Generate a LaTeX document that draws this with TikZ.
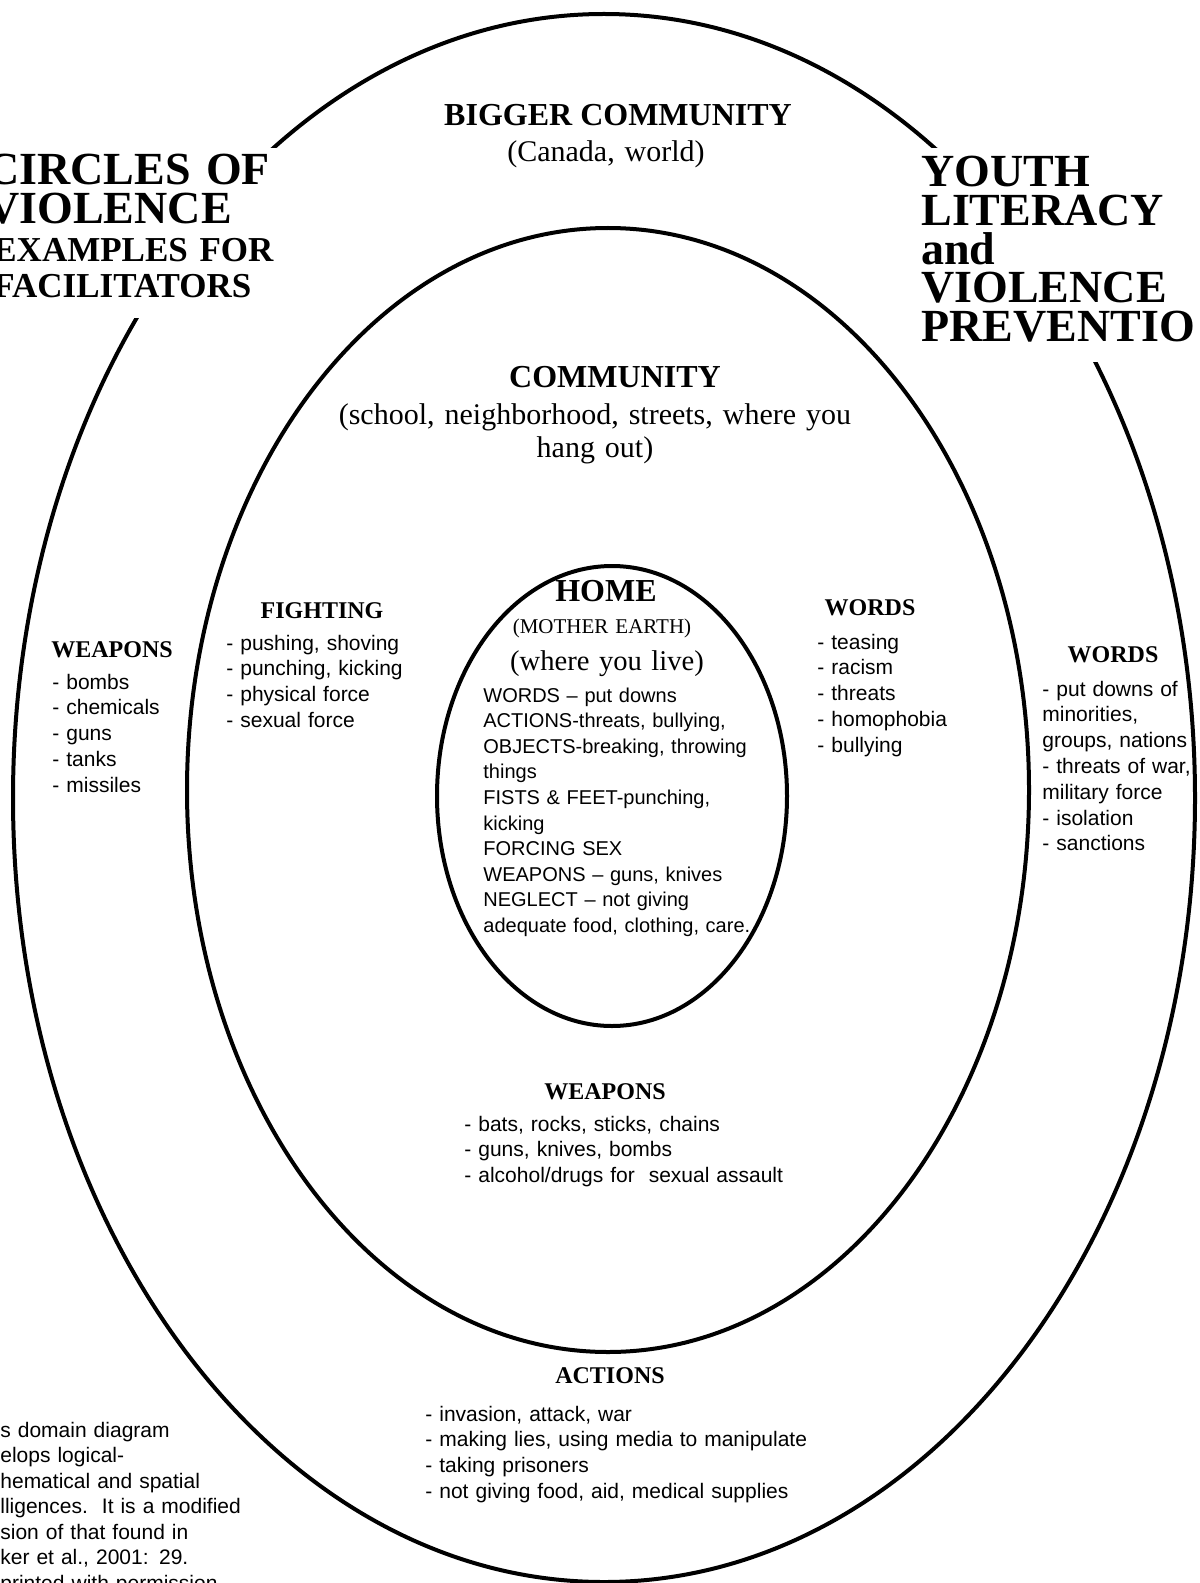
\documentclass[tikz,border=0pt]{standalone}
\usepackage{fontspec}
\setmainfont{Liberation Serif}
\newfontfamily\sansf{Liberation Sans}
\usetikzlibrary{shapes.geometric}
\begin{document}
\begin{tikzpicture}[x=0.5pt,y=-0.5pt,
  ring/.style={draw, ellipse, line width=2pt, inner sep=0pt, outer sep=0pt},
  hd/.style={font=\fontsize{12}{14}\selectfont\bfseries, inner sep=0pt, anchor=base},
  bighd/.style={font=\fontsize{16}{19}\selectfont\bfseries, inner sep=0pt, anchor=base},
  paren/.style={font=\fontsize{15}{16.5}\selectfont, inner sep=0pt, anchor=base, text width=300pt, align=center},
  lst/.style={font=\sansf\fontsize{10.5}{12.9}\selectfont, inner sep=0pt, anchor=base west, text width=250pt, align=left},
  inlst/.style={font=\sansf\fontsize{10}{12.8}\selectfont, inner sep=0pt, anchor=base west, text width=200pt, align=left},
  ttl/.style={font=\fontsize{23}{19.3}\selectfont\bfseries, inner sep=0pt, anchor=base west, text width=200pt, align=left},
  ttlsm/.style={font=\fontsize{17.5}{18}\selectfont\bfseries, inner sep=0pt, anchor=base west, text width=200pt, align=left}
]
\useasboundingbox (0,0) rectangle (1199,1583);
\fill[white] (0,0) rectangle (1199,1583);
\clip (0,0) rectangle (1199,1583);

% circles
\node[ring, minimum width=591pt, minimum height=784pt] (outer) at (604,798) {};
\node[ring, minimum width=421pt, minimum height=562pt] (middle) at (608,790) {};
\node[ring, minimum width=175pt, minimum height=230pt] (inner) at (612,796) {};

% white frames behind the titles
\fill[white] (-5,148) rectangle (279,318);
\fill[white] (915,148) rectangle (1205,362);

% titles
\node[ttl] (t1) at (-14,185) {CIRCLES OF\\VIOLENCE};
\node[ttlsm] (t2) at (-7,262) {EXAMPLES FOR\\FACILITATORS};
\node[ttl] (t3) at (921,187) {YOUTH\\LITERACY\\and\\VIOLENCE\\PREVENTIO};

% bigger community
\node[bighd] (bc) at (618,126) {BIGGER COMMUNITY};
\node[paren] (bcp) at (606,162) {(Canada, world)};

% community
\node[bighd] (cm) at (615,387) {COMMUNITY};
\node[paren] (cmp) at (595,424) {(school, neighborhood, streets, where you\\hang out)};

% home
\node[bighd] (home) at (606,601) {HOME};
\node[paren, font=\fontsize{10.5}{12}\selectfont] (mother) at (602,633) {(MOTHER EARTH)};
\node[paren, font=\fontsize{14.3}{16}\selectfont] (live) at (607,670) {(where you live)};
\node[inlst] (homelist) at (483,702) {WORDS – put downs\\ACTIONS-threats, bullying,\\OBJECTS-breaking, throwing\\things\\FISTS \& FEET-punching,\\kicking\\FORCING SEX\\WEAPONS – guns, knives\\NEGLECT – not giving\\adequate food, clothing, care.};

% fighting
\node[hd] (fight) at (322,618) {FIGHTING};
\node[lst] (fightlist) at (226,650) {- pushing, shoving\\- punching, kicking\\- physical force\\- sexual force};

% words (community)
\node[hd] (words1) at (870,615) {WORDS};
\node[lst] (words1list) at (817,649) {- teasing\\- racism\\- threats\\- homophobia\\- bullying};

% weapons (community)
\node[hd] (weap1) at (605,1099) {WEAPONS};
\node[lst] (weap1list) at (464,1131) {- bats, rocks, sticks, chains\\- guns, knives, bombs\\- alcohol/drugs for\ \ sexual assault};

% weapons (bigger)
\node[hd] (weap2) at (112,657) {WEAPONS};
\node[lst] (weap2list) at (52,689) {- bombs\\- chemicals\\- guns\\- tanks\\- missiles};

% words (bigger)
\node[hd] (words2) at (1113,662) {WORDS};
\node[lst] (words2list) at (1042,696) {- put downs of\\minorities,\\groups, nations\\- threats of war,\\military force\\- isolation\\- sanctions};

% actions (bigger)
\node[hd] (act) at (610,1383) {ACTIONS};
\node[lst] (actlist) at (425,1421) {- invasion, attack, war\\- making lies, using media to manipulate\\- taking prisoners\\- not giving food, aid, medical supplies};

% note bottom left
\node[lst, font=\sansf\fontsize{10.5}{12.75}\selectfont] (note) at (0,1437) {s domain diagram\\elops logical-\\hematical and spatial\\lligences.\ \ It is a modified\\sion of that found in\\ker et al., 2001: 29.\\printed with permission};
\end{tikzpicture}
\end{document}
